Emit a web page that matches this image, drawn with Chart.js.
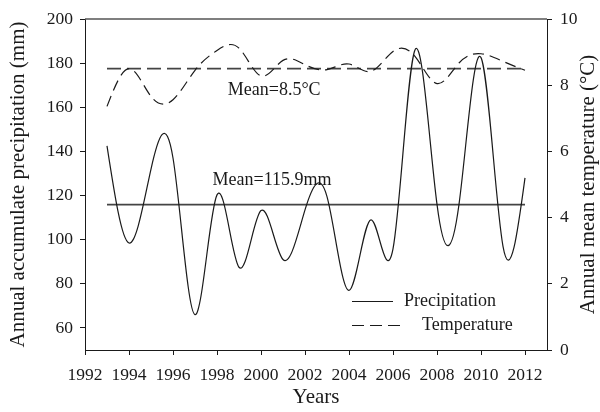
<!DOCTYPE html>
<html>
<head>
<meta charset="utf-8">
<script src="https://cdn.jsdelivr.net/npm/chart.js@4"></script>
<style>
  body { margin: 0; background: #fff; }
  #wrap { width: 600px; height: 412px; }
</style>
</head>
<body>
<div id="wrap"><canvas id="Chart1"></canvas></div>
<script>
// data
var years = [1993, 1994, 1995, 1996, 1997, 1998, 1999, 2000, 2001, 2002,
  2003, 2004, 2005, 2006, 2007, 2008, 2009, 2010, 2011, 2012];
var precipitation = [142.5, 98.5, 132, 137, 66, 120.3, 87.5, 113.2, 91, 113.5,
  119.5, 77, 109, 95.8, 186, 116, 116, 182.5, 97, 128];
var temperature = [7.36, 8.5, 7.66, 7.56, 8.45, 9.05, 9.12, 8.28, 8.75, 8.62,
  8.47, 8.64, 8.42, 9.02, 8.87, 8.05, 8.67, 8.95, 8.72, 8.45];
var precipMean = 115.9;
var tempMean = 8.5;
var xTicks = [1992, 1994, 1996, 1998, 2000, 2002, 2004, 2006, 2008, 2010, 2012];
var precipTicks = [60, 80, 100, 120, 140, 160, 180, 200];
var tempTicks = [0, 2, 4, 6, 8, 10];

var ink = "#1a1a1a";
var serif = "'Liberation Serif', 'Times New Roman', serif";
Chart.defaults.font.family = serif;
Chart.defaults.color = ink;

function points(values) {
  return years.map(function (yr, i) {
    return { x: yr, y: values[i] };
  });
}

// natural cubic spline through the points (same as the original plot)
var naturalSpline = {
  id: "naturalSpline",
  beforeDatasetDraw: function (chart, args) {
    var line = args.meta.dataset;
    if (!line || !line.options.tension) return;
    var pts = args.meta.data;
    var n = pts.length;
    var h = [], i;
    for (i = 0; i < n - 1; i++) h.push(pts[i + 1].x - pts[i].x);
    // tridiagonal solve for second derivatives
    var a = [], b = [], c = [], d = [];
    for (i = 1; i < n - 1; i++) {
      a.push(h[i - 1]);
      b.push(2 * (h[i - 1] + h[i]));
      c.push(h[i]);
      d.push(6 * ((pts[i + 1].y - pts[i].y) / h[i] - (pts[i].y - pts[i - 1].y) / h[i - 1]));
    }
    var m = d.length;
    for (i = 1; i < m; i++) {
      var w = a[i] / b[i - 1];
      b[i] -= w * c[i - 1];
      d[i] -= w * d[i - 1];
    }
    var M = new Array(n).fill(0);
    for (i = m - 1; i >= 0; i--) {
      M[i + 1] = (d[i] - (i < m - 1 ? c[i] * M[i + 2] : 0)) / b[i];
    }
    for (i = 0; i < n - 1; i++) {
      var p0 = pts[i], p1 = pts[i + 1], hh = h[i];
      var sec = (p1.y - p0.y) / hh;
      var s0 = sec - hh * (2 * M[i] + M[i + 1]) / 6;
      var s1 = sec + hh * (M[i] + 2 * M[i + 1]) / 6;
      p0.cp2x = p0.x + hh / 3;
      p0.cp2y = p0.y + s0 * hh / 3;
      p1.cp1x = p1.x - hh / 3;
      p1.cp1y = p1.y - s1 * hh / 3;
    }
    pts[0].cp1x = pts[0].x; pts[0].cp1y = pts[0].y;
    pts[n - 1].cp2x = pts[n - 1].x; pts[n - 1].cp2y = pts[n - 1].y;
    line._pointsUpdated = true;
    line._path = undefined;
  }
};

// frame top, right title, mean labels, legend
var extras = {
  id: "extras",
  afterDraw: function (chart) {
    var ctx = chart.ctx;
    var area = chart.chartArea;
    var sx = chart.scales.x, sp = chart.scales.yP, st = chart.scales.yT;
    ctx.save();
    ctx.strokeStyle = "#555";
    ctx.lineWidth = 1.5;
    ctx.beginPath();
    ctx.moveTo(area.left, area.top);
    ctx.lineTo(area.right, area.top);
    ctx.stroke();

    ctx.fillStyle = ink;
    ctx.font = "18px " + serif;
    ctx.textAlign = "center";
    ctx.textBaseline = "middle";
    ctx.fillText("Mean=115.9mm", sx.getPixelForValue(2000.5), sp.getPixelForValue(127));
    ctx.fillText("Mean=8.5\u00b0C", sx.getPixelForValue(2000.6), st.getPixelForValue(7.84));

    // right axis title, reading bottom to top
    ctx.font = "21px " + serif;
    ctx.translate(588, (area.top + area.bottom) / 2);
    ctx.rotate(-Math.PI / 2);
    ctx.fillText("Annual mean temperature (\u00b0C)", 0, 0);
    ctx.restore();

    // legend
    ctx.save();
    var lx = area.left + 267;
    ctx.strokeStyle = ink;
    ctx.lineWidth = 1.2;
    ctx.beginPath();
    ctx.moveTo(lx, 301.5);
    ctx.lineTo(lx + 41, 301.5);
    ctx.stroke();
    ctx.setLineDash([12, 6]);
    ctx.beginPath();
    ctx.moveTo(lx, 325.5);
    ctx.lineTo(lx + 50, 325.5);
    ctx.stroke();
    ctx.fillStyle = ink;
    ctx.font = "18px " + serif;
    ctx.textAlign = "left";
    ctx.textBaseline = "middle";
    ctx.fillText("Precipitation", lx + 52, 301);
    ctx.fillText("Temperature", lx + 70, 325);
    ctx.restore();
  }
};

var data = {
  datasets: [
    {
      label: "Precipitation",
      data: points(precipitation),
      yAxisID: "yP",
      borderColor: ink,
      borderWidth: 1.2,
      tension: 0.4,
      pointRadius: 0
    },
    {
      label: "Temperature",
      data: points(temperature),
      yAxisID: "yT",
      borderColor: ink,
      borderWidth: 1.2,
      borderDash: [11, 6],
      tension: 0.4,
      pointRadius: 0
    },
    {
      label: "Mean precipitation",
      data: [{ x: years[0], y: precipMean }, { x: years[years.length - 1], y: precipMean }],
      yAxisID: "yP",
      borderColor: "#444",
      borderWidth: 1.8,
      pointRadius: 0
    },
    {
      label: "Mean temperature",
      data: [{ x: years[0], y: tempMean }, { x: years[years.length - 1], y: tempMean }],
      yAxisID: "yT",
      borderColor: "#444",
      borderWidth: 1.8,
      borderDash: [14, 6],
      pointRadius: 0
    }
  ]
};

var tickFont = { family: serif, size: 17.5 };
var titleFont = { family: serif, size: 21 };

var options = {
  responsive: true,
  maintainAspectRatio: false,
  animation: false,
  layout: { padding: { top: 19, left: 0, right: 0, bottom: 0 } },
  plugins: { legend: { display: false }, tooltip: { enabled: false } },
  scales: {
    x: {
      type: "linear",
      min: 1992,
      max: 2013,
      afterBuildTicks: function (axis) {
        axis.ticks = xTicks.map(function (v) { return { value: v }; });
      },
      afterFit: function (scale) { scale.height = 62; },
      ticks: {
        callback: function (v) { return String(v); },
        font: tickFont,
        padding: 10,
        maxRotation: 0,
        autoSkip: false
      },
      grid: { drawOnChartArea: false, tickLength: 5, color: ink },
      border: { color: ink, width: 1 },
      title: { display: true, text: "Years", font: titleFont, padding: { bottom: 2, top: 0 } }
    },
    yP: {
      type: "linear",
      position: "left",
      min: 50,
      max: 200,
      afterBuildTicks: function (axis) {
        axis.ticks = precipTicks.map(function (v) { return { value: v }; });
      },
      afterFit: function (scale) { scale.width = 85; },
      ticks: { font: tickFont, padding: 7 },
      grid: { drawOnChartArea: false, tickLength: 5, color: ink },
      border: { color: ink, width: 1 },
      title: {
        display: true,
        text: "Annual accumulate precipitation (mm)",
        font: titleFont,
        padding: { top: 6, bottom: 0 }
      }
    },
    yT: {
      type: "linear",
      position: "right",
      min: 0,
      max: 10,
      afterBuildTicks: function (axis) {
        axis.ticks = tempTicks.map(function (v) { return { value: v }; });
      },
      afterFit: function (scale) { scale.width = 53; },
      ticks: { font: tickFont, padding: 8 },
      grid: { drawOnChartArea: false, tickLength: 5, color: ink },
      border: { color: ink, width: 1 }
    }
  }
};

var ctx = document.getElementById("Chart1").getContext("2d");
var myChart = new Chart(ctx, {
  type: "line",
  data: data,
  options: options,
  plugins: [naturalSpline, extras]
});
</script>
</body>
</html>
